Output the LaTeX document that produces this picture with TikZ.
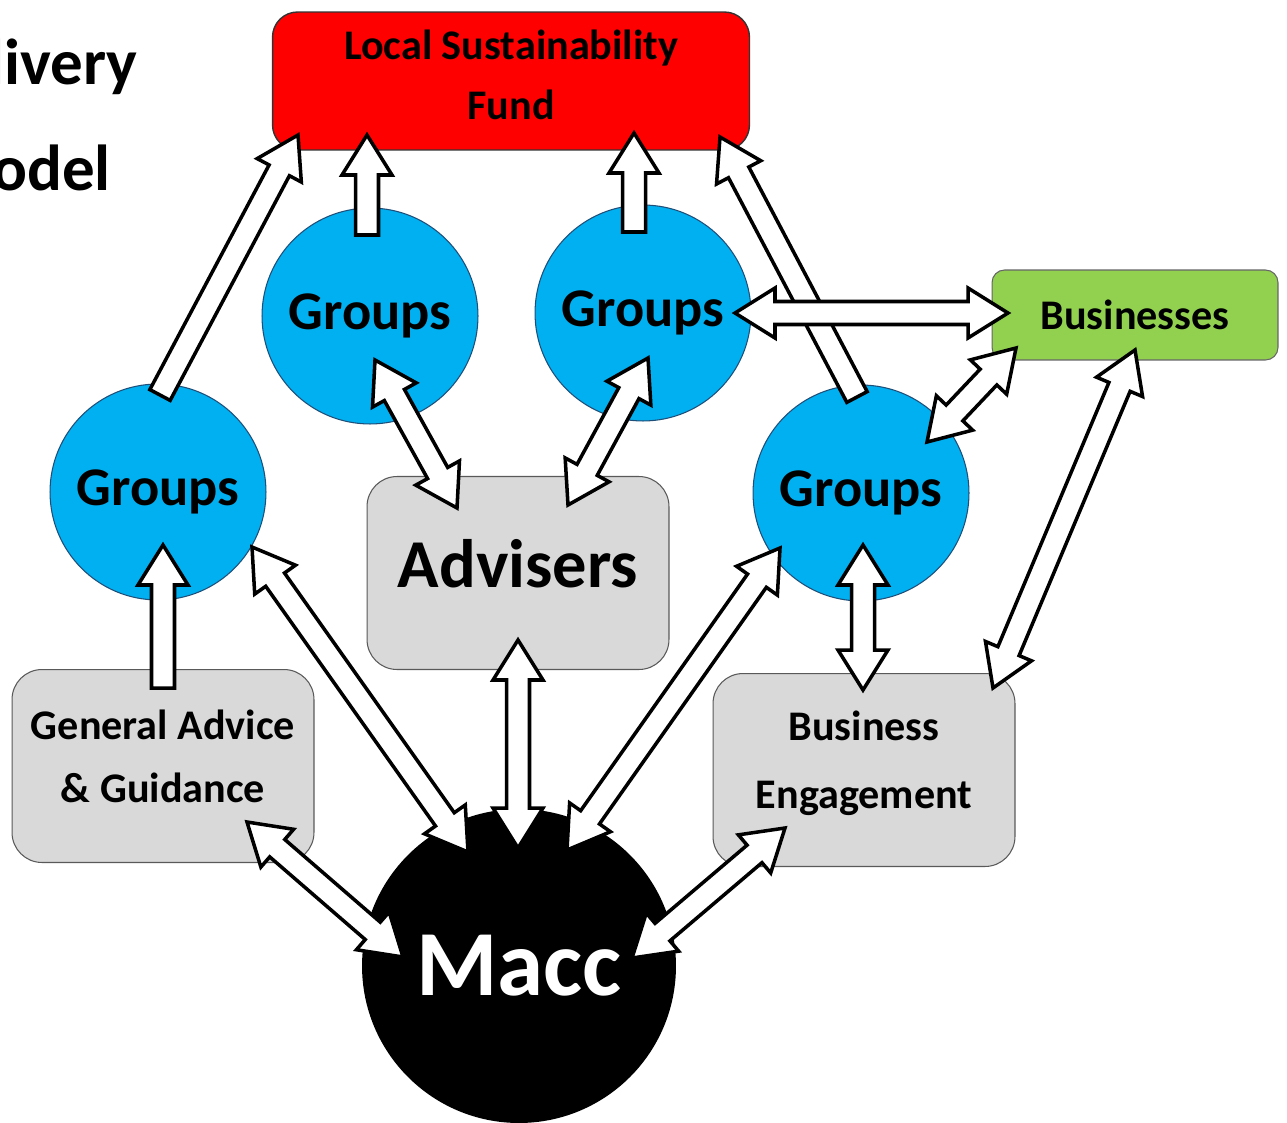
\documentclass[tikz,border=0pt]{standalone}
\usepackage{fontspec}
\setmainfont{Carlito}
\usetikzlibrary{calc}

\definecolor{fundred}{HTML}{FF0000}
\definecolor{groupblue}{HTML}{00B0F0}
\definecolor{groupedge}{HTML}{1F4E79}
\definecolor{bizgreen}{HTML}{92D050}
\definecolor{boxgrey}{HTML}{D9D9D9}

% block arrow sizes
\newcommand{\arrhead}{0.8cm}
\newcommand{\arrwing}{0.5cm}
\newcommand{\arrshaft}{0.23cm}

% hollow block arrow, head at the second end
\newcommand{\oneway}[2]{%
  \coordinate (arrA) at (#1);
  \coordinate (arrB) at (#2);
  \draw[blockarrow] ($(arrA)!\arrshaft!90:(arrB)$)
    -- ($(arrB)!\arrhead!(arrA)!\arrshaft!-90:(arrA)$)
    -- ($(arrB)!\arrhead!(arrA)!\arrwing!-90:(arrA)$)
    -- (arrB)
    -- ($(arrB)!\arrhead!(arrA)!\arrwing!90:(arrA)$)
    -- ($(arrB)!\arrhead!(arrA)!\arrshaft!90:(arrA)$)
    -- ($(arrA)!\arrshaft!-90:(arrB)$)
    -- cycle;}

% hollow block arrow, heads at both ends
\newcommand{\twoway}[2]{%
  \coordinate (arrA) at (#1);
  \coordinate (arrB) at (#2);
  \draw[blockarrow] (arrA)
    -- ($(arrA)!\arrhead!(arrB)!\arrwing!90:(arrB)$)
    -- ($(arrA)!\arrhead!(arrB)!\arrshaft!90:(arrB)$)
    -- ($(arrB)!\arrhead!(arrA)!\arrshaft!-90:(arrA)$)
    -- ($(arrB)!\arrhead!(arrA)!\arrwing!-90:(arrA)$)
    -- (arrB)
    -- ($(arrB)!\arrhead!(arrA)!\arrwing!90:(arrA)$)
    -- ($(arrB)!\arrhead!(arrA)!\arrshaft!90:(arrA)$)
    -- ($(arrA)!\arrhead!(arrB)!\arrshaft!-90:(arrB)$)
    -- ($(arrA)!\arrhead!(arrB)!\arrwing!-90:(arrB)$)
    -- cycle;}

\tikzset{
  fund/.style={rectangle, rounded corners=0.5cm, fill=fundred, draw=black!80,
    line width=0.8pt, minimum width=9.54cm, minimum height=2.76cm,
    align=center, text depth=0.24cm, font=\fontsize{24}{34}\selectfont\bfseries},
  group/.style={circle, fill=groupblue, draw=groupedge, line width=0.6pt,
    minimum size=4.32cm, inner sep=0pt, font=\fontsize{31}{37}\selectfont\bfseries},
  greybox/.style={rectangle, rounded corners=0.6cm, fill=boxgrey, draw=black!65,
    line width=0.6pt, minimum width=6.04cm, minimum height=3.86cm,
    align=center, font=\fontsize{24}{36}\selectfont\bfseries},
  bizbox/.style={rectangle, rounded corners=0.25cm, fill=bizgreen, draw=black!60,
    line width=0.6pt, minimum width=5.72cm, minimum height=1.8cm,
    font=\fontsize{24}{28}\selectfont\bfseries},
  hub/.style={circle, fill=black, minimum size=6.28cm, inner sep=0pt,
    text=white, font=\fontsize{53}{60}\selectfont\bfseries},
  title/.style={anchor=base east, inner sep=0pt, font=\fontsize{37}{44}\selectfont\bfseries},
  blockarrow/.style={fill=white, draw=black, line width=2pt, line join=miter},
}

\begin{document}
\begin{tikzpicture}[x=0.02cm, y=-0.02cm]
  \useasboundingbox (0,0) rectangle (1287,1122);

  % heading, running off the left edge
  \node[title] (head1) at (138,85) {Delivery};
  \node[title] (head2) at (111,190) {Model};

  % boxes and circles
  \node[fund] (fund) at (511,81) {Local Sustainability\\Fund};
  \node[group] (g1) at (370,316) {Groups};
  \node[group] (g2) at (643,313) {Groups};
  \node[group] (gL) at (158,492) {Groups};
  \node[group] (gR) at (861,493) {Groups};
  \node[greybox, text depth=0.4cm, font=\fontsize{39}{44}\selectfont\bfseries]
    (adv) at (518,573) {Advisers};
  \node[greybox, text depth=0.4cm] (gen) at (163,766) {General Advice\\\& Guidance};
  \node[greybox, text depth=0.41cm, font=\fontsize{24}{38.5}\selectfont\bfseries]
    (beng) at (864,770) {Business\\Engagement};
  \node[bizbox] (biz) at (1135,315) {Businesses};
  \node[hub] (macc) at (519,966) {Macc};

  % up to the fund
  \oneway{$(gL)+(2,-97)$}{$(fund)+(-213,54)$}
  \oneway{$(g1)+(-3,-81)$}{$(fund)+(-144,54)$}
  \oneway{$(g2)+(-9,-81)$}{$(fund)+(123,52)$}
  \oneway{$(gR)+(-4,-96)$}{$(fund)+(209,56)$}
  \oneway{$(gen)+(0,-78)$}{$(gL)+(5,53)$}

  % businesses
  \twoway{$(g2)+(92,0)$}{$(biz)+(-127,-2)$}
  \twoway{$(gR)+(66,-51)$}{$(biz)+(-119,33)$}
  \twoway{$(biz)+(0,35)$}{$(beng)+(129,-82)$}
  \twoway{$(gR)+(2,52)$}{$(beng)+(-1,-80)$}

  % advisers
  \twoway{$(g1)+(5,44)$}{$(adv)+(-61,-65)$}
  \twoway{$(g2)+(5,45)$}{$(adv)+(50,-68)$}

  % into macc
  \twoway{$(gL)+(94,55)$}{$(macc)+(-51,-114)$}
  \twoway{$(adv)+(0,67)$}{$(macc)+(-1,-118)$}
  \twoway{$(gR)+(-81,55)$}{$(macc)+(48,-116)$}
  \twoway{$(gen)+(84,56)$}{$(macc)+(-116,-9)$}
  \twoway{$(beng)+(-79,58)$}{$(macc)+(113,-8)$}
\end{tikzpicture}
\end{document}
